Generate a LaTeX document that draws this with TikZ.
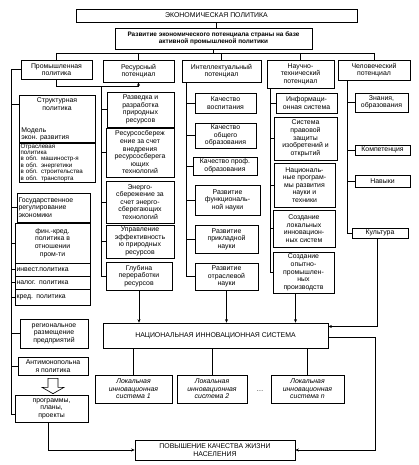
\documentclass[tikz,border=0pt]{standalone}
\usepackage{fontspec}
\setmainfont{Liberation Sans}
\usetikzlibrary{arrows.meta,calc}
\newcommand{\Bx}[7][]{\node[box,minimum width={(#5-#3)*1pt},minimum height={(#6-#4)*1pt},#1] (#2) at ({(#3+#5)/2},{(#4+#6)/2}) {#7};}
\begin{document}
\begin{tikzpicture}[x=1pt,y=-1pt,
  box/.style={draw,line width=0.65pt,align=center,inner sep=1.2pt,font=\fontsize{6.9}{7.6}\selectfont},
  txt/.style={inner sep=1pt,font=\fontsize{6.9}{7.6}\selectfont},
  ln/.style={line width=0.65pt},
  arr/.style={line width=0.65pt,-{Stealth[length=3.5pt,width=3pt]}}]
\useasboundingbox (0,0) rectangle (419,465);
% top
\Bx{t}{76}{9}{357}{22}{ЭКОНОМИЧЕСКАЯ ПОЛИТИКА}
\Bx[font=\bfseries\fontsize{6.4}{7.6}\selectfont]{d}{115}{28}{312}{49}{Развитие экономического потенциала страны на базе\\активной промышленой политики}
% headers
\Bx{p0}{21}{60}{92}{79}{Промышленная\\политика}
\Bx{r0}{103}{60}{174}{82}{Ресурсный\\потенциал}
\Bx{i0}{182}{60}{261}{82}{Интеллектуальный\\потенциал}
\Bx{s0}{267}{60}{334}{88}{Научно-\\технический\\потенциал}
\Bx{h0}{338}{60}{410}{80}{Человеческий\\потенциал}
% column 1
\Bx{p1}{19}{95}{95}{143}{}
\node[txt,anchor=north,align=center] (p1t) at ($(p1.north)+(0,2)$) {Структурная\\политика};
\node[txt,anchor=south west,align=left] (p1m) at ($(p1.south west)+(1.5,-1)$) {Модель\\экон. развития};
\Bx[align=left,text width=73pt,font=\fontsize{6.2}{6.4}\selectfont]{p1o}{19}{143}{95}{182}{Отраслевая\\политика\\в обл. машиностр-я\\в обл. энергетики\\в обл. строительства\\в обл. транспорта}
\Bx[align=left,text width=70pt]{g}{17}{193}{90}{222}{Государственное\\регулирование\\экономики}
\Bx{f}{15}{223}{90}{263}{фин.-кред.\\политика в\\отношении\\пром-ти}
\Bx[align=left,text width=72pt]{f1}{15}{263}{90}{276}{инвест.политика}
\Bx[align=left,text width=72pt]{f2}{15}{276}{90}{289}{налог. политика}
\Bx[align=left,text width=72pt]{f3}{15}{289}{90}{305}{кред. политика}
\Bx{reg}{20}{319}{88}{348}{региональное\\размещение\\предприятий}
\Bx{anti}{18}{357}{88}{375}{Антимонопольна\\я политика}
\Bx{prog}{15}{395}{88}{422}{программы,\\планы,\\проекты}
% column 2
\Bx{r1}{107}{92}{174}{127}{Разведка и\\разработка\\природных\\ресурсов}
\Bx{r2}{106}{128}{174}{177}{Ресурсосбереж\\ение за счет\\внедрения\\ресурсосберега\\ющих\\технологий}
\Bx{r3}{106}{181}{174}{223}{Энерго-\\сбережение за\\счет энерго-\\сберегающих\\технологий}
\Bx{r4}{106}{225}{174}{258}{Управление\\эффективность\\ю природных\\ресурсов}
\Bx{r5}{106}{262}{172}{290}{Глубина\\переработки\\ресурсов}
% column 3
\Bx{i1}{195}{93}{256}{113}{Качество\\воспитания}
\Bx{i2}{195}{123}{256}{148}{Качество\\общего\\образования}
\Bx{i3}{193}{157}{257}{175}{Качество проф.\\образования}
\Bx{i4}{195}{185}{260}{215}{Развитие\\функциональ-\\ной науки}
\Bx{i5}{195}{225}{258}{253}{Развитие\\прикладной\\науки}
\Bx{i6}{195}{263}{258}{290}{Развитие\\отраслевой\\науки}
% column 4
\Bx{s1}{276}{93}{337}{113}{Информаци-\\онная система}
\Bx{s2}{274}{117}{337}{160}{Система\\правовой\\защиты\\изобретений и\\открытий}
\Bx{s3}{274}{163}{335}{207}{Националь-\\ные програм-\\мы развития\\науки и\\техники}
\Bx{s4}{273}{210}{335}{247}{Создание\\локальных\\инновацион-\\ных систем}
\Bx{s5}{273}{252}{334}{293}{Создание\\опытно-\\промышлен-\\ных\\производств}
% column 5
\Bx{h1}{355}{93}{408}{112}{Знания,\\образования}
\Bx{h2}{355}{145}{410}{155}{Компетенция}
\Bx{h3}{355}{175}{410}{187}{Навыки}
\Bx{h4}{352}{228}{408}{238}{Культура}
% bottom
\Bx{n}{103}{323}{328}{348}{НАЦИОНАЛЬНАЯ ИННОВАЦИОННАЯ СИСТЕМА}
\Bx[font=\itshape\fontsize{6.9}{7.6}\selectfont]{l1}{95}{375}{172}{403}{Локальная\\инновационная\\система 1}
\Bx[font=\itshape\fontsize{6.9}{7.6}\selectfont]{l2}{177}{375}{247}{403}{Локальная\\инновационная\\система 2}
\Bx[font=\itshape\fontsize{6.9}{7.6}\selectfont]{l3}{271}{375}{344}{403}{Локальная\\инновационная\\система n}
\node[txt] (dots) at (260,391) {\dots};
\Bx{q}{135}{440}{295}{460}{ПОВЫШЕНИЕ КАЧЕСТВА ЖИЗНИ\\НАСЕЛЕНИЯ}
% top connectors
\draw[ln] (t.south) -- (t.south |- d.north);
\coordinate (bt) at (0,53);
\draw[ln] (d.south) -- (d.south |- bt);
\draw[ln] (p0.north |- bt) -- (h0.north |- bt);
\foreach \n in {p0,r0,i0,s0,h0} \draw[ln] (\n.north |- bt) -- (\n.north);
% column 1 bus
\coordinate (b1) at ($(p0.west)+(-9,0)$);
\draw[ln] (p0.west) -- (b1) |- ([yshift=-6pt]prog.west);
\draw[ln] (b1 |- p1t) -- (p1t -| p1.west);
\foreach \n in {g,f,f1,f2,f3,reg,anti} \draw[ln] (b1 |- \n.west) -- (\n.west);
% hollow arrow
\draw[ln] ($(anti.south)+(-5,3)$) -- ++(0,9) -- ++(-6,0) -- ($(anti.south |- prog.north)+(0,-1)$) -- ($(anti.south)+(11,12)$) -- ++(-6,0) -- ++(0,-9) -- cycle;
% industrial -> resource
\draw[arr] (p0.south) -- ++(0,7) -| (r0.south);
% column 2 bus
\coordinate (b2) at ($(p0.south)+(44.5,7)$);
\draw[ln] (b2) |- (r5.west);
\foreach \n in {r1,r2,r3,r4} \draw[ln] (b2 |- \n.west) -- (\n.west);
% column 3 bus
\coordinate (b3) at ([xshift=5pt]i0.south west);
\draw[ln] (b3) |- (i6.west);
\foreach \n in {i1,i2,i3,i4,i5} \draw[ln] (b3 |- \n.west) -- (\n.west);
% column 4 bus
\coordinate (b4) at ([xshift=4pt]s0.south west);
\draw[ln] (b4) |- (s5.west);
\foreach \n in {s1,s2,s3,s4} \draw[ln] (b4 |- \n.west) -- (\n.west);
% column 5 bus
\coordinate (b5) at ([xshift=10pt]h0.south west);
\draw[ln] (b5) |- (h4.west);
\foreach \n in {h1,h2,h3} \draw[ln] (b5 |- \n.west) -- (\n.west);
% into national system
\draw[arr] (r5.south) -- (r5.south |- n.north);
\draw[arr] (i6.south) -- (i6.south |- n.north);
\draw[arr] ([xshift=-8pt]s5.south) -- ([xshift=-8pt]s5.south |- n.north);
\draw[arr] ([xshift=-3pt]h4.south) |- ([yshift=9pt]n.east);
% national to local
\foreach \n in {l1,l2,l3} \draw[ln] (\n.north |- n.south) -- (\n.north);
% to quality of life
\draw[arr] ([xshift=-3pt]prog.south) |- (q.west);
\draw[arr] ([yshift=-2pt]n.east) -- ++(47,0) |- (q.east);
\end{tikzpicture}
\end{document}
